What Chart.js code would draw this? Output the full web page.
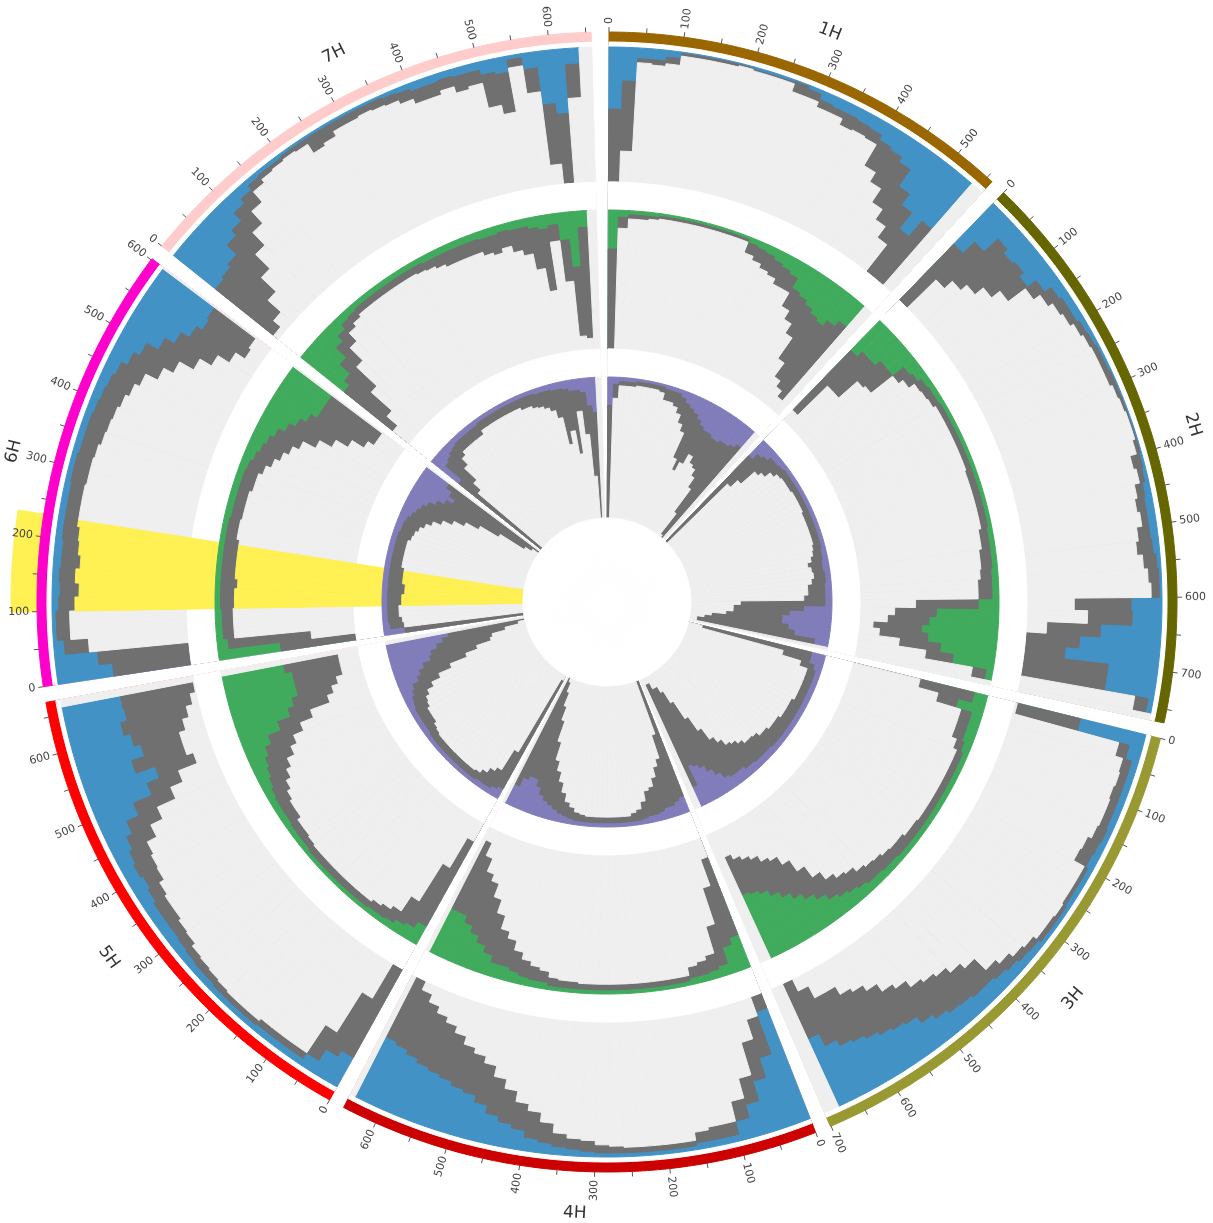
<!DOCTYPE html>
<html>
<head>
<meta charset="utf-8">
<script src="https://cdn.jsdelivr.net/npm/chart.js@4.4.1/dist/chart.umd.min.js"></script>
<style>
body { margin: 0; background: #fff; }
</style>
</head>
<body>
<canvas id="chartId" width="1213" height="1223"></canvas>
<script>
// chromosomes (Mb)
var chromNames = ["1H", "2H", "3H", "4H", "5H", "6H", "7H"];
var chromLengths = [558.5, 768.1, 701.0, 647.1, 670.0, 602.0, 657.2];
var chromColors = ['#996600', '#666600', '#999933', '#cc0000', '#ff0000', '#ff00cc', '#ffcccc'];
var binSize = 20;
var tickStep = 50;
var labelStep = 100;

// highlighted region
var highlightChrom = "6H";
var highlightFrom = 100;
var highlightTo = 230;

// outer track, % of track height (blue part, then grey part)
var outerColored = [
    [46,25,8,8,5,1,1,1,1,1, 2,2,2,1,3,7,8,8,9,10, 14,16,20,35,45,60,45],
    [42,30,16,20,18,22,14,8,6,6, 4,3,2,2,1,1,1,1,1,1, 2,3,5,6,6,6,5,3,2,2, 23,22,45,60,70,37,37,4],
    [50,10,5,5,5,5,5,4,5,6, 4,4,4,3,3,3,5,6,8,10, 12,12,14,15,18,22,28,30,32,35, 38,40,45,55],
    [88,55,40,25,15,5,5,5,3,3, 3,3,3,3,3,4,5,6,8,10, 15,18,22,28,33,35,38,40,42,45, 48,50],
    [25,20,10,5,5,5,5,4,4,4, 4,5,5,6,7,8,8,8,10,12, 10,12,15,20,30,45,55,40,50,45, 40,45,44],
    [42,32,8,3,3,5,6,5,6,6, 5,5,5,5,4,4,5,5,5,6, 7,8,10,15,20,30,38,45,50,48],
    [40,38,35,25,20,12,8,4,3,3, 2,2,2,2,2,2,2,2,3,4, 6,6,5,6,6,10,12,3,12,40, 48,12]
];
var outerGray = [
    [54,52,3,4,5,2,2,2,2,1, 1,1,1,8,6,6,5,10,8,8, 22,28,36,30,30,40,55],
    [58,40,46,36,30,18,10,10,8,6, 5,4,4,4,5,3,2,1,1,3, 7,4,6,7,5,9,12,10,8,6, 42,33,40,40,30,63,63,10],
    [48,8,7,6,7,6,6,8,10,10, 3,3,3,3,4,4,5,6,8,10, 20,25,28,30,30,32,30,35,38,38, 42,40,45,45],
    [12,30,30,20,15,10,10,8,4,4, 4,4,4,5,6,8,8,10,15,20, 20,25,28,30,30,32,35,38,40,42, 45,50],
    [75,50,25,5,5,5,5,4,4,4, 5,5,6,6,8,8,10,10,10,12, 15,15,20,25,30,25,30,40,30,40, 50,50,55],
    [58,68,18,10,10,12,14,12,14,12, 12,10,10,10,12,12,12,14,15,15, 16,18,20,25,28,30,32,35,38,38],
    [55,50,40,35,25,20,12,6,4,3, 3,4,12,10,6,6,5,6,6,8, 10,10,8,12,10,25,30,6,18,45, 52,25]
];

// middle track (green part, then grey part)
var middleColored = [
    [28,5,3,3,3,2,2,2,2,2, 2,2,2,2,4,5,6,8,10,12, 20,22,25,28,30,25,20],
    [30,25,25,20,20,10,8,5,4,4, 3,3,3,3,3,3,3,3,3,3, 3,3,3,4,4,4,4,5,5,5, 15,45,50,55,50,40,30,5],
    [10,20,8,8,8,6,4,4,4,4, 4,4,4,4,4,4,4,4,5,5, 6,6,8,10,12,15,20,25,30,35, 40,45,48,50],
    [25,20,8,6,5,5,3,3,3,3, 3,3,3,3,3,3,3,3,3,3, 5,5,6,8,10,10,15,20,25,30, 35,35],
    [15,10,8,5,4,4,3,3,3,3, 3,3,3,3,4,4,4,5,5,5, 6,8,10,12,15,20,30,40,45,50, 50,50,45],
    [45,8,5,5,5,4,4,4,4,4, 4,4,4,4,5,5,5,5,5,6, 8,10,12,15,20,25,30,35,35,35],
    [40,35,25,15,10,6,5,4,4,4, 4,4,4,4,4,5,5,5,5,5, 5,6,6,5,6,6,8,10,8,20, 40,12]
];
var middleGray = [
    [72,8,3,3,2,2,2,2,2,2, 2,2,2,2,8,10,12,12,14,12, 15,20,25,40,50,60,70],
    [60,35,35,22,20,10,8,6,6,5, 4,4,4,4,4,4,4,5,5,5, 5,5,5,6,6,8,8,8,10,10, 45,30,30,35,35,30,20,10],
    [40,15,8,8,8,6,5,5,5,5, 5,5,5,5,6,6,8,8,8,10, 10,12,14,14,16,20,25,30,32,30, 30,28,28,30],
    [60,45,30,12,10,8,4,4,4,4, 4,4,4,4,4,4,4,5,5,6, 8,10,12,15,20,25,30,35,40,40, 45,55],
    [70,50,20,10,8,6,5,5,5,5, 5,5,5,5,5,6,6,8,8,10, 12,14,16,20,22,25,25,30,30,30, 35,35,40],
    [55,60,8,8,8,10,10,12,10,10, 10,10,8,8,8,8,8,10,10,12, 14,16,18,20,25,30,35,40,45,45],
    [45,40,30,20,12,8,6,5,5,5, 5,5,5,5,6,6,8,10,10,10, 10,12,14,12,16,20,30,45,12,30, 50,80]
];

// inner track (purple part, then grey part)
var innerColored = [
    [20,5,3,3,3,2,2,2,2,2, 3,3,3,5,8,10,12,15,18,20, 20,22,22,20,20,18,15],
    [15,10,8,5,5,4,3,3,3,3, 3,3,3,3,3,3,3,3,3,3, 3,4,4,5,5,4,4,5,5,5, 5,20,30,35,35,30,25,10],
    [10,10,6,4,4,4,4,4,4,4, 4,4,4,4,4,4,4,4,5,5, 5,5,6,6,8,8,8,10,15,20, 25,28,30,15],
    [12,10,8,8,6,5,5,4,3,3, 3,3,3,3,3,3,3,3,3,3, 4,5,6,8,10,12,15,20,25,25, 22,15],
    [8,6,4,4,4,3,3,3,3,3, 3,3,3,3,3,3,4,4,4,4, 4,5,6,8,10,15,18,22,28,30, 35,40,45],
    [15,5,4,4,4,4,4,4,4,4, 4,4,4,4,4,4,4,4,5,5, 6,8,10,12,15,20,25,30,25,20],
    [25,10,8,6,5,4,4,4,4,4, 3,3,3,3,3,3,3,3,3,3, 3,4,4,4,5,5,6,8,8,10, 20,25]
];
var innerGray = [
    [80,10,3,3,3,3,3,3,3,4, 8,8,10,12,15,18,35,40,30,20, 25,25,30,40,60,80,85],
    [85,30,25,15,12,8,6,5,5,5, 4,4,4,4,5,5,5,5,5,5, 6,6,8,10,8,8,10,12,12,15, 60,50,40,40,50,60,70,85],
    [80,20,10,6,6,6,6,6,6,8, 8,8,8,10,10,10,12,12,14,15, 15,18,20,22,25,30,40,50,60,65, 65,62,65,80],
    [88,50,35,30,25,20,18,12,8,6, 4,4,4,4,4,4,4,4,5,6, 8,10,15,20,25,30,40,50,55,65, 75,85],
    [88,30,15,12,8,6,5,5,5,5, 5,5,5,5,5,6,6,8,8,8, 10,10,12,15,20,25,35,40,45,45, 50,55,55],
    [85,10,10,8,8,10,10,12,12,10, 10,10,8,8,8,8,8,10,10,12, 14,16,20,25,30,35,45,60,70,80],
    [75,30,25,15,10,8,8,8,8,8, 6,6,6,6,6,6,6,6,8,8, 10,10,12,15,20,40,30,45,15,30, 50,75]
];

// layout (radius in scale units, scale max = 602 px)
var startDeg = 0.2;
var gapDeg = 1.6;
var ideoInner = 560, ideoOuter = 570;
var highlightOuter = 596;
var tracks = [
    {outer: 555, inner: 420, color: '#4292c6', colored: outerColored, gray: outerGray},
    {outer: 392, inner: 253, color: '#41ab5d', colored: middleColored, gray: middleGray},
    {outer: 225, inner: 84, color: '#807dba', colored: innerColored, gray: innerGray}
];
var grayColor = '#707070';
var bgColor = '#efefef';
var highlightColor = '#fff154';

var total = chromLengths.reduce(function(s, v) { return s + v; }, 0);
var degPerMb = (360 - startDeg - gapDeg * chromNames.length) / total;

// split every chromosome into bins (plus highlight edges), a gap after each
var segs = [{chrom: -1, bin: -1, hl: false, deg: startDeg}];
var chromStart = [];
var pos = startDeg;
chromNames.forEach(function(name, ci) {
    var len = chromLengths[ci];
    var nBins = outerColored[ci].length;
    var cuts = [0, len];
    for (var b = 1; b <= nBins; b++) {
        if (b * binSize < len) cuts.push(b * binSize);
    }
    if (name == highlightChrom) cuts.push(highlightFrom, highlightTo);
    cuts.sort(function(a, b) { return a - b; });
    cuts = cuts.filter(function(v, i) { return i == 0 || v != cuts[i - 1]; });
    chromStart.push(pos);
    for (var i = 0; i < cuts.length - 1; i++) {
        var bin = Math.floor(cuts[i] / binSize);
        segs.push({
            chrom: ci,
            bin: bin < nBins ? bin : -1,
            hl: name == highlightChrom && cuts[i] >= highlightFrom && cuts[i + 1] <= highlightTo,
            deg: (cuts[i + 1] - cuts[i]) * degPerMb
        });
    }
    pos += len * degPerMb;
    segs.push({chrom: -1, bin: -1, hl: false, deg: gapDeg});
    pos += gapDeg;
});
var segAngles = segs.map(function(s) { return s.deg; });

var layers = [];
function addLayer(valueFn, colorFn) {
    var data = segs.map(valueFn);
    var colors = segs.map(function(s, i) { return data[i] > 0 ? colorFn(s) : 'rgba(0,0,0,0)'; });
    layers.push({
        data: data,
        angle: segAngles,
        backgroundColor: colors,
        borderColor: colors,
        borderWidth: data.map(function(v) { return v > 0 ? 1 : 0; })
    });
}

// bottom to top
addLayer(function(s) { return s.hl ? highlightOuter : 0; }, function() { return highlightColor; });
addLayer(function(s) { return s.chrom >= 0 ? ideoOuter : 0; }, function(s) { return chromColors[s.chrom]; });
addLayer(function(s) { return s.chrom >= 0 ? ideoInner : 0; }, function() { return '#ffffff'; });
tracks.forEach(function(t, ti) {
    var h = (t.outer - t.inner) / 100;
    addLayer(function(s) {
        return s.bin >= 0 ? t.outer : 0;
    }, function() { return t.color; });
    addLayer(function(s) {
        return s.bin >= 0 ? t.outer - t.colored[s.chrom][s.bin] * h : 0;
    }, function() { return grayColor; });
    addLayer(function(s) {
        if (s.chrom < 0) return 0;
        if (s.bin < 0) return t.outer;
        return t.outer - (t.colored[s.chrom][s.bin] + t.gray[s.chrom][s.bin]) * h;
    }, function(s) { return s.hl ? highlightColor : bgColor; });
    addLayer(function(s) {
        if (ti == tracks.length - 1) return t.inner;
        return s.chrom >= 0 ? t.inner : 0;
    }, function(s) { return (s.hl && ti < tracks.length - 1) ? highlightColor : '#ffffff'; });
});
layers.reverse();

var ideogramText = {
    id: 'ideogramText',
    afterDatasetsDraw: function(chart) {
        var scale = chart.scales.r;
        var ctx = chart.ctx;
        var cx = scale.xCenter;
        var cy = scale.yCenter;
        function rad(v) { return scale.getDistanceFromCenterForValue(v); }
        function pt(deg, r) {
            var a = (deg - 90) * Math.PI / 180;
            return [cx + r * Math.cos(a), cy + r * Math.sin(a), a];
        }
        ctx.save();
        ctx.strokeStyle = '#555';
        ctx.lineWidth = 1;
        chromNames.forEach(function(name, ci) {
            for (var m = 0; m <= chromLengths[ci]; m += tickStep) {
                var deg = chromStart[ci] + m * degPerMb;
                var p0 = pt(deg, rad(ideoOuter));
                var p1 = pt(deg, rad(ideoOuter + 5));
                ctx.beginPath();
                ctx.moveTo(p0[0], p0[1]);
                ctx.lineTo(p1[0], p1[1]);
                ctx.stroke();
                if (m % labelStep == 0) {
                    var p = pt(deg, rad(ideoOuter + 8));
                    ctx.save();
                    ctx.translate(p[0], p[1]);
                    if (deg < 180) {
                        ctx.rotate(p[2]);
                        ctx.textAlign = 'left';
                    } else {
                        ctx.rotate(p[2] + Math.PI);
                        ctx.textAlign = 'right';
                    }
                    ctx.textBaseline = 'middle';
                    ctx.fillStyle = '#444';
                    ctx.font = '11px "DejaVu Sans"';
                    ctx.fillText(String(m), 0, 0);
                    ctx.restore();
                }
            }
            var mid = chromStart[ci] + chromLengths[ci] * degPerMb / 2;
            var q = pt(mid, rad(612));
            ctx.save();
            ctx.translate(q[0], q[1]);
            var rot = (mid > 90 && mid < 270) ? mid - 180 : mid;
            ctx.rotate(rot * Math.PI / 180);
            ctx.textAlign = 'center';
            ctx.textBaseline = 'middle';
            ctx.fillStyle = '#333';
            ctx.font = '17px "DejaVu Sans"';
            ctx.fillText(name, 0, 0);
            ctx.restore();
        });
        ctx.restore();
    }
};

var chart = new Chart(document.getElementById('chartId').getContext('2d'), {
    type: 'polarArea',
    data: {
        labels: segs.map(function(s, i) { return s.chrom >= 0 ? chromNames[s.chrom] + ':' + i : 'gap' + i; }),
        datasets: layers
    },
    options: {
        responsive: false,
        animation: false,
        events: [],
        layout: { padding: { left: 2, right: 0, top: 0, bottom: 19 } },
        plugins: {
            legend: { display: false },
            tooltip: { enabled: false }
        },
        scales: {
            r: {
                min: 0,
                max: 602,
                display: false,
                ticks: { display: false },
                startAngle: 0
            }
        }
    },
    plugins: [ideogramText]
});
</script>
</body>
</html>
